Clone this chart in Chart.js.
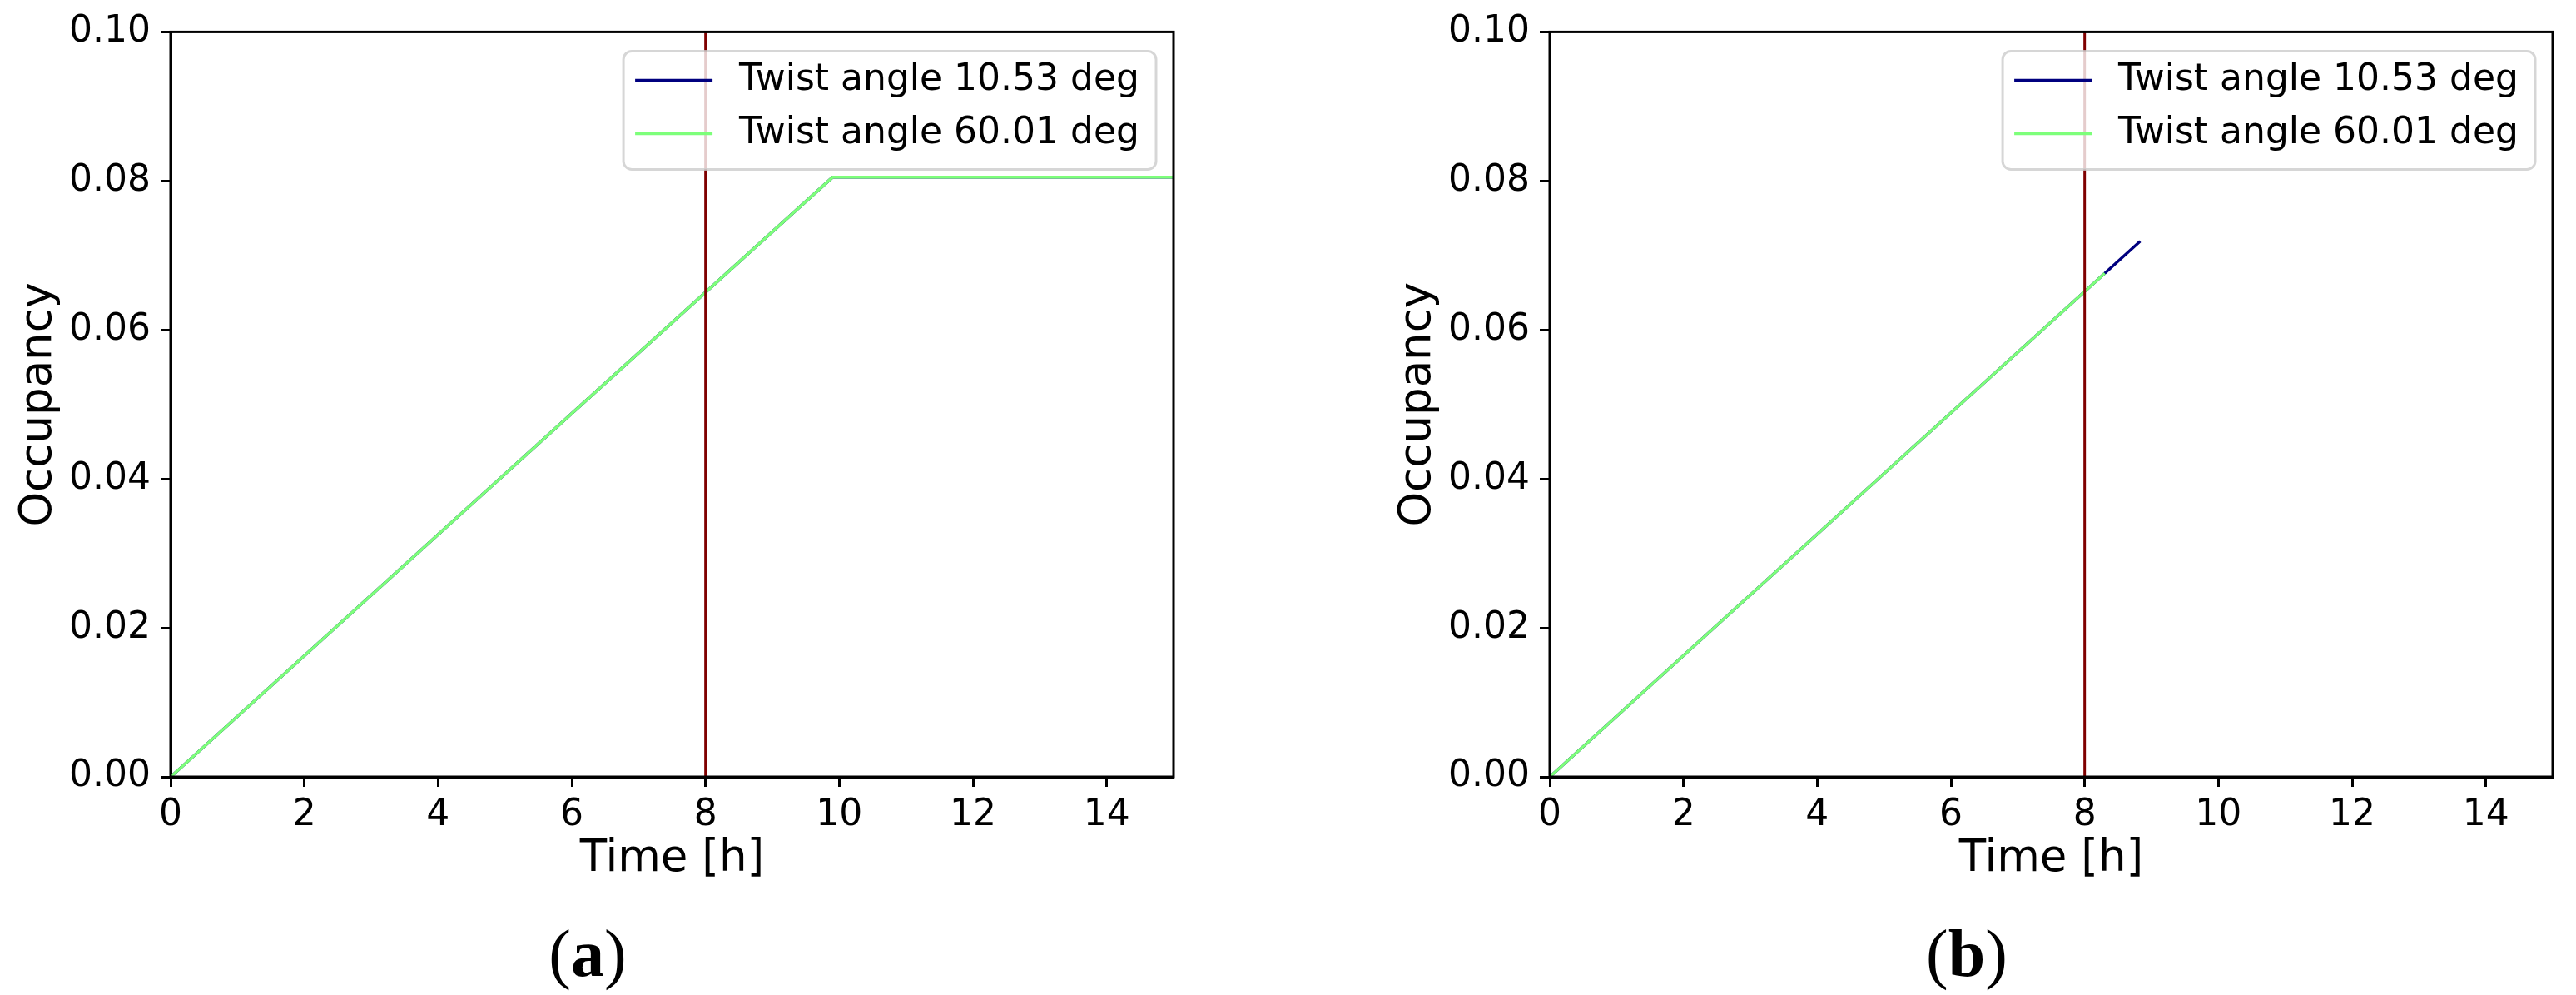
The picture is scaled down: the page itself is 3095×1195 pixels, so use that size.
<!DOCTYPE html>
<html>
<head>
<meta charset="utf-8">
<script src="https://cdn.jsdelivr.net/npm/chart.js@4.4.0/dist/chart.umd.min.js"></script>
<style>
  body { margin: 0; background: #fff; width: 3095px; height: 1195px; position: relative; overflow: hidden; }
  .panel { position: absolute; top: 0; width: 1438px; height: 1195px; }
  .cap { position: absolute; top: 1105px; line-height: 80px; font-family: "Liberation Serif", serif; font-size: 80px; transform: translateX(-50%); white-space: nowrap; }
</style>
</head>
<body>
<div class="panel" style="left:0"><canvas id="chartA" width="1438" height="1195"></canvas></div>
<div class="panel" style="left:1657px"><canvas id="chartB" width="1438" height="1195"></canvas></div>
<div class="cap" style="left:706px">(<b>a</b>)</div>
<div class="cap" style="left:2363px">(<b>b</b>)</div>
<script>
// values
const labelSmall = 'Twist angle 10.53 deg';
const labelLarge = 'Twist angle 60.01 deg';

const timeA = [0, 9.9, 15];
const occSmallA = [0, 0.0805, 0.0805];
const occLargeA = [0, 0.0805, 0.0805];

const timeSmallB = [0, 8.3, 8.83];
const occSmallB = [0, 0.0676, 0.0719];
const timeLargeB = [0, 8.3];
const occLargeB = [0, 0.0676];

const cutoffTime = 8;
const xTickValues = [0, 2, 4, 6, 8, 10, 12, 14];
const yTickValues = [0, 0.02, 0.04, 0.06, 0.08, 0.10];

const navy = '#00007f';
const lightGreen = '#7dff7a';
const maroon = '#7f0000';

Chart.defaults.font.family = '"DejaVu Sans"';
Chart.defaults.font.size = 44;
Chart.defaults.color = '#000';

const pts = (xs, ys) => xs.map((x, i) => ({ x: x, y: ys[i] }));

const frame = {
  id: 'frame',
  afterDatasetsDraw(chart) {
    const a = chart.chartArea, ctx = chart.ctx;
    ctx.save();
    ctx.strokeStyle = '#000';
    ctx.lineWidth = 3;
    ctx.strokeRect(a.left, a.top, a.right - a.left, a.bottom - a.top);
    ctx.restore();
  }
};

const legendBox = {
  id: 'legendBox',
  afterDraw(chart) {
    const items = chart.data.datasets.filter(d => d.inLegend);
    const ctx = chart.ctx, a = chart.chartArea;
    ctx.save();
    ctx.font = '44px "DejaVu Sans"';
    const tw = Math.max(...items.map(d => ctx.measureText(d.label).width));
    const w = 14 + 93 + 32 + tw + 20;
    const h = 142;
    const x = a.right - 21 - w, y = a.top + 23;
    ctx.beginPath();
    ctx.roundRect(x, y, w, h, 10);
    ctx.fillStyle = 'rgba(255,255,255,0.8)';
    ctx.fill();
    ctx.strokeStyle = 'rgba(204,204,204,0.8)';
    ctx.lineWidth = 3;
    ctx.stroke();
    items.forEach((d, i) => {
      const cy = y + 35 + i * 64;
      ctx.strokeStyle = d.borderColor;
      ctx.lineWidth = 3.5;
      ctx.beginPath();
      ctx.moveTo(x + 14, cy);
      ctx.lineTo(x + 107, cy);
      ctx.stroke();
      ctx.fillStyle = '#000';
      ctx.textBaseline = 'middle';
      ctx.textAlign = 'left';
      ctx.fillText(d.label, x + 139, cy);
    });
    ctx.restore();
  }
};

function makeChart(id, smallData, largeData) {
  const tickGrid = { drawOnChartArea: false, tickLength: 12, tickWidth: 3, tickColor: '#000' };
  const titleFont = { size: 53 };
  return new Chart(id, {
    type: 'line',
    data: {
      datasets: [
        { label: labelSmall, data: smallData, borderColor: navy, borderWidth: 3.5, order: 2, inLegend: true },
        { label: labelLarge, data: largeData, borderColor: lightGreen, borderWidth: 3.5, order: 1, inLegend: true },
        { label: '', data: [{ x: cutoffTime, y: 0 }, { x: cutoffTime, y: 0.1 }], borderColor: maroon, borderWidth: 3, order: 0 }
      ]
    },
    options: {
      responsive: false,
      animation: false,
      events: [],
      elements: { point: { radius: 0 }, line: { tension: 0, fill: false } },
      layout: { padding: { left: 0, top: 35, right: 28, bottom: 122 } },
      plugins: { legend: { display: false }, tooltip: { enabled: false } },
      scales: {
        x: {
          type: 'linear', min: 0, max: 15,
          afterFit: s => { s.height = 140; },
          afterBuildTicks: s => { s.ticks = xTickValues.map(v => ({ value: v })); },
          ticks: { padding: 8, maxRotation: 0, autoSkip: false, callback: v => String(v) },
          grid: tickGrid,
          border: { color: '#000', width: 3 },
          title: { display: true, text: 'Time [h]', font: titleFont, padding: { top: 0, bottom: 9 } }
        },
        y: {
          type: 'linear', min: 0, max: 0.1,
          afterFit: s => { s.width = 205; },
          afterBuildTicks: s => { s.ticks = yTickValues.map(v => ({ value: v })); },
          ticks: { padding: 12, autoSkip: false, callback: v => v.toFixed(2) },
          grid: tickGrid,
          border: { color: '#000', width: 3 },
          title: { display: true, text: 'Occupancy', font: titleFont, padding: { top: 15, bottom: 0 } }
        }
      }
    },
    plugins: [frame, legendBox]
  });
}

makeChart('chartA', pts(timeA, occSmallA), pts(timeA, occLargeA));
makeChart('chartB', pts(timeSmallB, occSmallB), pts(timeLargeB, occLargeB));
</script>
</body>
</html>
